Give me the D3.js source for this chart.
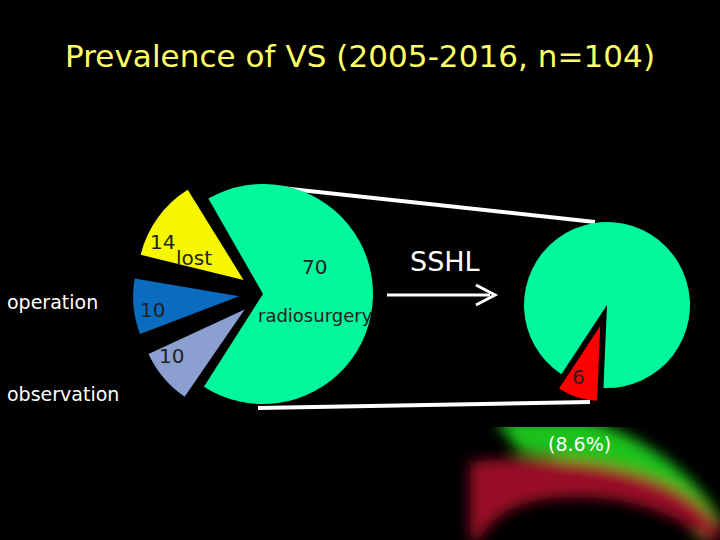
<!DOCTYPE html><html><head><meta charset="utf-8"><script src="https://cdn.jsdelivr.net/npm/d3@7"></script>
<style>body{margin:0;background:#000}</style></head><body><svg id="c" width="720" height="540"></svg>
<script>
const leftCategories=["radiosurgery","observation","operation","lost"];
const leftValues=[70,10,10,14];
const leftColors=["#00f79b","#8b9fd0","#0a6cc0","#f7f700"];
const rightCategories=["no SSHL","SSHL"];
const rightValues=[64,6];
const rightColors=["#00f79b","#ff0000"];
const svg=d3.select("#c");
const defs=svg.append("defs");
defs.append("filter").attr("id","bl").append("feGaussianBlur").attr("stdDeviation",7);
svg.append("rect").attr("width",720).attr("height",540).attr("fill","#000");
const deco=svg.append("g").attr("filter","url(#bl)");
deco.append("path").attr("d","M495,420 L590,420 C650,440 700,480 720,520 L720,540 L700,540 C665,485 610,465 520,452 Z").attr("fill","#1fc21f");
deco.append("path").attr("d","M470,462 C580,450 680,470 720,525 L720,540 L705,540 C670,505 600,490 540,500 C510,505 490,520 480,540 L470,540 Z").attr("fill","#9a0c28");
svg.append("rect").attr("x",0).attr("y",405).attr("width",720).attr("height",22).attr("fill","#000");
svg.append("text").attr("x",360).attr("y",67).attr("text-anchor","middle").attr("fill","#ffff66").attr("font-family","DejaVu Sans").attr("font-size",31).attr("textLength",590).text("Prevalence of VS (2005-2016, n=104)");
svg.append("line").attr("x1",272).attr("y1",187).attr("x2",595).attr("y2",222).attr("stroke","#fff").attr("stroke-width",4);
svg.append("line").attr("x1",258).attr("y1",408).attr("x2",590).attr("y2",402).attr("stroke","#fff").attr("stroke-width",4);
const pie=d3.pie().sort(null).value(d=>d);
const la=pie.startAngle(-0.52).endAngle(2*Math.PI-0.52)(leftValues);
const lc=[263,294];
la.forEach((a,i)=>{
  const mid=(a.startAngle+a.endAngle)/2, off=i==0?0:24, r=i==0?110:106;
  const pad=i==0?0:0.035;
  const arc=d3.arc().innerRadius(0).outerRadius(r).startAngle(a.startAngle+pad).endAngle(a.endAngle-pad);
  svg.append("path").attr("d",arc()).attr("fill",leftColors[i])
   .attr("transform",`translate(${lc[0]+off*Math.sin(mid)},${lc[1]-off*Math.cos(mid)})`);
});
const ra=d3.pie().sort(null).value(d=>d).startAngle(-2.56).endAngle(2*Math.PI-2.56)(rightValues);
const rc=[607,305];
ra.forEach((a,i)=>{
  const mid=(a.startAngle+a.endAngle)/2, off=i==0?0:22, r=i==0?83:75;
  const arc=d3.arc().innerRadius(0).outerRadius(r).startAngle(a.startAngle).endAngle(a.endAngle);
  svg.append("path").attr("d",arc()).attr("fill",rightColors[i])
   .attr("transform",`translate(${rc[0]+off*Math.sin(mid)},${rc[1]-off*Math.cos(mid)})`);
});
svg.append("line").attr("x1",387).attr("y1",295).attr("x2",490).attr("y2",295).attr("stroke","#fff").attr("stroke-width",3);
svg.append("path").attr("d","M476,285 L495,295 L476,305").attr("fill","none").attr("stroke","#fff").attr("stroke-width",3);
const T=(x,y,c,t,sz)=>svg.append("text").attr("x",x).attr("y",y).attr("fill",c).attr("font-family","DejaVu Sans").attr("font-size",sz||20).text(t);
T(410,271,"#fff","SSHL",27);
T(302,274,"#222",String(leftValues[0]),20);
T(258,322,"#222","radiosurgery",18);
T(150,249,"#222",String(leftValues[3]),20);
T(176,265,"#222","lost",20);
T(140,317,"#222",String(leftValues[2]),20);
T(159,363,"#222",String(leftValues[1]),20);
T(572,384,"#222",String(rightValues[1]),20);
T(7,309,"#fff","operation",19);
T(7,401,"#fff","observation",19);
T(548,451,"#fff","(8.6%)",19);
</script></body></html>
